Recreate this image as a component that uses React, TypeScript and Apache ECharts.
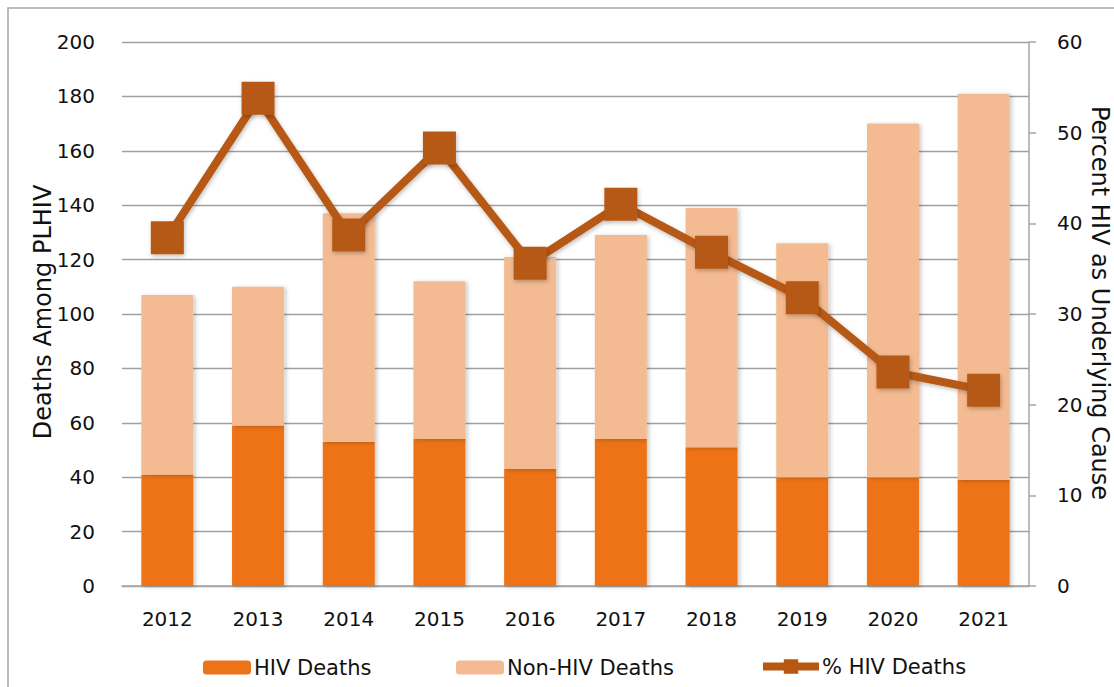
import React, { useEffect, useRef } from "react";
import * as echarts from "echarts";

const years = ["2012", "2013", "2014", "2015", "2016", "2017", "2018", "2019", "2020", "2021"];
const hivDeaths = [41, 59, 53, 54, 43, 54, 51, 40, 40, 39];
const nonHivDeaths = [66, 51, 84, 58, 78, 75, 88, 86, 130, 142];
const pctHivDeaths = [38.4, 53.8, 38.7, 48.3, 35.6, 42.1, 36.8, 31.8, 23.6, 21.6];

const leftTitle = "Deaths Among PLHIV";
const rightTitle = "Percent HIV as Underlying Cause";

const FONT = "DejaVu Sans";
const TXT = "#111111";

export default function App() {
  const ref = useRef<HTMLDivElement>(null);
  useEffect(() => {
    document.body.style.margin = "0";
    const chart = echarts.init(ref.current!, null, { renderer: "svg" });
    const legendText = { fontFamily: FONT, fontSize: 21, color: TXT, padding: [0, 0, 0, -2] };
    chart.setOption({
      animation: false,
      backgroundColor: "#ffffff",
      textStyle: { fontFamily: FONT, color: TXT },
      graphic: [
        {
          type: "rect",
          shape: { x: 8, y: 8, width: 1300, height: 900 },
          style: { fill: "none", stroke: "#a6a6a6", lineWidth: 1.5 },
          silent: true,
        },
        {
          type: "text",
          x: 43,
          y: 312,
          rotation: Math.PI / 2,
          style: {
            text: leftTitle,
            fontFamily: FONT,
            fontSize: 24,
            fill: TXT,
            align: "center",
            verticalAlign: "middle",
          },
        },
        {
          type: "text",
          x: 1100,
          y: 303,
          rotation: -Math.PI / 2,
          style: {
            text: rightTitle,
            fontFamily: FONT,
            fontSize: 24,
            fill: TXT,
            align: "center",
            verticalAlign: "middle",
          },
        },
      ],
      grid: { left: 122, right: 85, top: 42, bottom: 101 },
      legend: [
        {
          left: 198,
          top: 652,
          itemWidth: 48,
          itemHeight: 14,
          textStyle: legendText,
          data: ["HIV Deaths"],
        },
        {
          left: 451,
          top: 652,
          itemWidth: 48,
          itemHeight: 14,
          textStyle: legendText,
          data: ["Non-HIV Deaths"],
        },
        {
          left: 754,
          top: 651,
          itemWidth: 56,
          itemHeight: 18,
          textStyle: legendText,
          data: [
            {
              name: "% HIV Deaths",
              lineStyle: { width: 8, color: "#b65812" },
              itemStyle: { color: "#b65812" },
            },
          ],
        },
      ],
      xAxis: {
        type: "category",
        data: years,
        axisLine: { lineStyle: { color: "#a6a6a6", width: 1.5 } },
        axisTick: { show: false },
        axisLabel: { fontFamily: FONT, fontSize: 20, color: TXT, margin: 23 },
      },
      yAxis: [
        {
          type: "value",
          min: 0,
          max: 200,
          interval: 20,
          axisLine: { show: false },
          axisTick: { show: false },
          axisLabel: { fontFamily: FONT, fontSize: 20, color: TXT, margin: 27 },
          splitLine: { lineStyle: { color: "#a0a0a0", width: 1.3 } },
        },
        {
          type: "value",
          position: "right",
          min: 0,
          max: 60,
          interval: 10,
          axisLine: { show: true, lineStyle: { color: "#a6a6a6", width: 1.5 } },
          axisTick: { show: true, length: 7, lineStyle: { color: "#a6a6a6", width: 1.5 } },
          axisLabel: { fontFamily: FONT, fontSize: 20, color: TXT, margin: 28 },
          splitLine: { show: false },
        },
      ],
      series: [
        {
          name: "HIV Deaths",
          type: "bar",
          stack: "deaths",
          barWidth: 52,
          data: hivDeaths,
          itemStyle: {
            color: "#ed7319",
            shadowBlur: 4,
            shadowColor: "rgba(0,0,0,0.22)",
            shadowOffsetX: 2,
            shadowOffsetY: 1,
          },
        },
        {
          name: "Non-HIV Deaths",
          type: "bar",
          stack: "deaths",
          barWidth: 52,
          data: nonHivDeaths,
          itemStyle: {
            color: "#f4bb92",
            shadowBlur: 4,
            shadowColor: "rgba(0,0,0,0.22)",
            shadowOffsetX: 2,
            shadowOffsetY: 1,
          },
        },
        {
          name: "% HIV Deaths",
          type: "line",
          yAxisIndex: 1,
          data: pctHivDeaths,
          symbol: "rect",
          symbolSize: 33,
          z: 5,
          lineStyle: {
            color: "#b65812",
            width: 8,
            shadowBlur: 4,
            shadowColor: "rgba(0,0,0,0.25)",
            shadowOffsetX: 1,
            shadowOffsetY: 2,
          },
          itemStyle: {
            color: "#b65812",
            shadowBlur: 4,
            shadowColor: "rgba(0,0,0,0.25)",
            shadowOffsetX: 1,
            shadowOffsetY: 2,
          },
        },
      ],
    });
    return () => chart.dispose();
  }, []);
  return <div ref={ref} style={{ width: 1114, height: 687 }} />;
}
